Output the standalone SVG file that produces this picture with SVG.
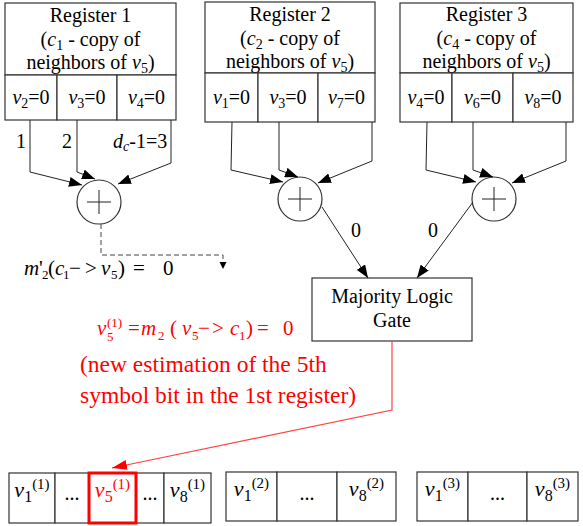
<svg xmlns="http://www.w3.org/2000/svg" width="583" height="526" viewBox="0 0 583 526" font-family="Liberation Serif, Times New Roman, DejaVu Serif, Noto Serif, serif">
<style>
  .box{fill:#fff;stroke:#333;stroke-width:1.2}
  .ln{fill:none;stroke:#222;stroke-width:1}
  .r{fill:#ff0000}
  .i{font-style:italic}
</style>
<defs>
  <marker id="ah" markerUnits="userSpaceOnUse" markerWidth="14" markerHeight="10" refX="13" refY="5" orient="auto">
    <path d="M0,0 L13,5 L0,10 Z" fill="#000"/>
  </marker>
  <marker id="ahs" markerUnits="userSpaceOnUse" markerWidth="8" markerHeight="8" refX="7" refY="3.5" orient="auto">
    <path d="M0,0 L7,3.5 L0,7 Z" fill="#000"/>
  </marker>
  <marker id="ahr" markerUnits="userSpaceOnUse" markerWidth="16" markerHeight="10" refX="15" refY="5" orient="auto">
    <path d="M0,0 L15,5 L0,10 Z" fill="#ff0000"/>
  </marker>
</defs>

<g id="register1">
  <rect class="box" x="5" y="3" width="171" height="72"/>
  <text font-size="20" x="90.5" y="22" text-anchor="middle">Register 1</text>
  <text font-size="20" x="90.5" y="46" text-anchor="middle">(<tspan class="i">c</tspan><tspan font-size="14" dy="4">1</tspan><tspan dy="-4"> - copy of</tspan></text>
  <text font-size="20" x="90.5" y="69" text-anchor="middle">neighbors of <tspan class="i">v</tspan><tspan font-size="14" dy="4">5</tspan><tspan dy="-4">)</tspan></text>
  <rect class="box" x="5" y="75" width="52" height="45"/>
  <rect class="box" x="57" y="75" width="60" height="45"/>
  <rect class="box" x="117" y="75" width="59" height="45"/>
  <text font-size="20" x="31" y="104" text-anchor="middle"><tspan class="i">v</tspan><tspan font-size="14" dy="4">2</tspan><tspan dy="-4">=0</tspan></text>
  <text font-size="20" x="87" y="104" text-anchor="middle"><tspan class="i">v</tspan><tspan font-size="14" dy="4">3</tspan><tspan dy="-4">=0</tspan></text>
  <text font-size="20" x="146.5" y="104" text-anchor="middle"><tspan class="i">v</tspan><tspan font-size="14" dy="4">4</tspan><tspan dy="-4">=0</tspan></text>
</g>

<g id="register2">
  <rect class="box" x="205" y="2" width="170" height="71"/>
  <text font-size="20" x="290" y="21" text-anchor="middle">Register 2</text>
  <text font-size="20" x="290" y="45" text-anchor="middle">(<tspan class="i">c</tspan><tspan font-size="14" dy="4">2</tspan><tspan dy="-4"> - copy of</tspan></text>
  <text font-size="20" x="290" y="68" text-anchor="middle">neighbors of <tspan class="i">v</tspan><tspan font-size="14" dy="4">5</tspan><tspan dy="-4">)</tspan></text>
  <rect class="box" x="205" y="73" width="53" height="49"/>
  <rect class="box" x="258" y="73" width="60" height="49"/>
  <rect class="box" x="318" y="73" width="57" height="49"/>
  <text font-size="20" x="231.5" y="104" text-anchor="middle"><tspan class="i">v</tspan><tspan font-size="14" dy="4">1</tspan><tspan dy="-4">=0</tspan></text>
  <text font-size="20" x="288" y="104" text-anchor="middle"><tspan class="i">v</tspan><tspan font-size="14" dy="4">3</tspan><tspan dy="-4">=0</tspan></text>
  <text font-size="20" x="346.5" y="104" text-anchor="middle"><tspan class="i">v</tspan><tspan font-size="14" dy="4">7</tspan><tspan dy="-4">=0</tspan></text>
</g>

<g id="register3">
  <rect class="box" x="400" y="3" width="173" height="70"/>
  <text font-size="20" x="486.5" y="21" text-anchor="middle">Register 3</text>
  <text font-size="20" x="486.5" y="45" text-anchor="middle">(<tspan class="i">c</tspan><tspan font-size="14" dy="4">4</tspan><tspan dy="-4"> - copy of</tspan></text>
  <text font-size="20" x="486.5" y="68" text-anchor="middle">neighbors of <tspan class="i">v</tspan><tspan font-size="14" dy="4">5</tspan><tspan dy="-4">)</tspan></text>
  <rect class="box" x="400" y="73" width="52" height="49"/>
  <rect class="box" x="452" y="73" width="61" height="49"/>
  <rect class="box" x="513" y="73" width="60" height="49"/>
  <text font-size="20" x="426" y="104" text-anchor="middle"><tspan class="i">v</tspan><tspan font-size="14" dy="4">4</tspan><tspan dy="-4">=0</tspan></text>
  <text font-size="20" x="482.5" y="104" text-anchor="middle"><tspan class="i">v</tspan><tspan font-size="14" dy="4">6</tspan><tspan dy="-4">=0</tspan></text>
  <text font-size="20" x="543" y="104" text-anchor="middle"><tspan class="i">v</tspan><tspan font-size="14" dy="4">8</tspan><tspan dy="-4">=0</tspan></text>
</g>

<g id="xor1">
  <circle class="box" cx="99" cy="202" r="22"/>
  <path class="ln" d="M87,202 H111 M99,190 V214"/>
</g>
<g id="xor2">
  <circle class="box" cx="300" cy="199" r="22"/>
  <path class="ln" d="M288,199 H312 M300,187 V211"/>
</g>
<g id="xor3">
  <circle class="box" cx="494" cy="199" r="22"/>
  <path class="ln" d="M482,199 H506 M494,187 V211"/>
</g>

<g id="gate">
  <rect class="box" x="312" y="278" width="160" height="63"/>
  <text font-size="20" x="392" y="303" text-anchor="middle">Majority Logic</text>
  <text font-size="20" x="392" y="327" text-anchor="middle">Gate</text>
</g>

<g id="connectors">
  <path class="ln" d="M30,120 V172 L82,185" marker-end="url(#ah)"/>
  <path class="ln" d="M77,120 V172 L95,179" marker-end="url(#ah)"/>
  <path class="ln" d="M171,120 V163 L118,184" marker-end="url(#ah)"/>
  <path class="ln" d="M232,122 L231,170 L283,182" marker-end="url(#ah)"/>
  <path class="ln" d="M279,122 V170 L298,177" marker-end="url(#ah)"/>
  <path class="ln" d="M372,122 V161 L318,183" marker-end="url(#ah)"/>
  <path class="ln" d="M427,122 L426,170 L476,182" marker-end="url(#ah)"/>
  <path class="ln" d="M473,122 V170 L493,177" marker-end="url(#ah)"/>
  <path class="ln" d="M566,122 V161 L512,183" marker-end="url(#ah)"/>
  <path class="ln" d="M322,207 L368,278" marker-end="url(#ah)"/>
  <path class="ln" d="M473,202 L417,278" marker-end="url(#ah)"/>
  <path fill="none" stroke="#444" stroke-width="1" stroke-dasharray="5,3" d="M101,224 V255 H223 V269" marker-end="url(#ahs)"/>
  <path fill="none" stroke="#ff4444" stroke-width="1.2" d="M392,341 V410 L112,468" marker-end="url(#ahr)"/>
</g>

<g id="labels">
  <text font-size="20" x="21" y="148" text-anchor="middle">1</text>
  <text font-size="20" x="67" y="148" text-anchor="middle">2</text>
  <text font-size="20" x="113" y="148"><tspan class="i">d</tspan><tspan class="i" font-size="14" dy="3">c</tspan><tspan dy="-3">-1=3</tspan></text>
  <text font-size="20" x="356" y="237" text-anchor="middle">0</text>
  <text font-size="20" x="433" y="237" text-anchor="middle">0</text>
  <g font-size="21">
    <text class="i" x="24" y="275">m</text>
    <text x="39" y="275">'</text>
    <text x="42" y="279" font-size="13">2</text>
    <text x="48" y="275">(</text>
    <text class="i" x="55" y="275">c</text>
    <text x="63" y="279" font-size="13">1</text>
    <text x="69" y="275">−</text>
    <text x="85" y="275">&gt;</text>
    <text class="i" x="101" y="275">v</text>
    <text x="111" y="279" font-size="13">5</text>
    <text x="118" y="275">)</text>
    <text x="133" y="275">=</text>
    <text x="163" y="275">0</text>
  </g>
  <g font-size="21">
    <text class="i r" x="97" y="335">v</text>
    <text class="r" x="107" y="327" font-size="13">(1)</text>
    <text class="r" x="107" y="341" font-size="13">5</text>
    <text class="r" x="128" y="335">=</text>
    <text class="i r" x="141" y="335">m</text>
    <text class="r" x="158" y="340" font-size="13">2</text>
    <text class="r" x="170" y="335">(</text>
    <text class="i r" x="182" y="335">v</text>
    <text class="r" x="192" y="340" font-size="13">5</text>
    <text class="r" x="198" y="335">−</text>
    <text class="r" x="212" y="335">&gt;</text>
    <text class="i r" x="230" y="335">c</text>
    <text class="r" x="239" y="340" font-size="13">1</text>
    <text class="r" x="246" y="335">)</text>
    <text class="r" x="257" y="335">=</text>
    <text class="r" x="283" y="335">0</text>
  </g>
  <text class="r" font-size="23.5" x="80" y="372">(new estimation of the 5th</text>
  <text class="r" font-size="23.5" x="80" y="403">symbol bit in the 1st register)</text>
</g>

<g id="estimate1">
  <rect class="box" x="9" y="473" width="46" height="50"/>
  <rect class="box" x="55" y="473" width="34" height="50"/>
  <rect class="box" x="136" y="473" width="28" height="50"/>
  <rect class="box" x="164" y="473" width="47" height="50"/>
  <rect x="89" y="473" width="47" height="50" fill="#fff" stroke="#ff0000" stroke-width="3"/>
  <text font-size="22" x="32" y="497" text-anchor="middle"><tspan class="i">v</tspan><tspan font-size="16" dy="5">1</tspan><tspan font-size="15" dy="-13">(1)</tspan></text>
  <text font-size="20" x="72" y="500" text-anchor="middle">...</text>
  <text class="r" font-size="22" x="112.5" y="497" text-anchor="middle"><tspan class="i">v</tspan><tspan font-size="16" dy="5">5</tspan><tspan font-size="15" dy="-13">(1)</tspan></text>
  <text font-size="20" x="150" y="500" text-anchor="middle">...</text>
  <text font-size="22" x="187.5" y="497" text-anchor="middle"><tspan class="i">v</tspan><tspan font-size="16" dy="5">8</tspan><tspan font-size="15" dy="-13">(1)</tspan></text>
</g>

<g id="estimate2">
  <rect class="box" x="226" y="472" width="51" height="49"/>
  <rect class="box" x="277" y="472" width="60" height="49"/>
  <rect class="box" x="337" y="472" width="59" height="49"/>
  <text font-size="22" x="251.5" y="496" text-anchor="middle"><tspan class="i">v</tspan><tspan font-size="16" dy="5">1</tspan><tspan font-size="15" dy="-13">(2)</tspan></text>
  <text font-size="20" x="307" y="500" text-anchor="middle">...</text>
  <text font-size="22" x="366.5" y="496" text-anchor="middle"><tspan class="i">v</tspan><tspan font-size="16" dy="5">8</tspan><tspan font-size="15" dy="-13">(2)</tspan></text>
</g>

<g id="estimate3">
  <rect class="box" x="417" y="472" width="51" height="49"/>
  <rect class="box" x="468" y="472" width="59" height="49"/>
  <rect class="box" x="527" y="472" width="51" height="49"/>
  <text font-size="22" x="442.5" y="496" text-anchor="middle"><tspan class="i">v</tspan><tspan font-size="16" dy="5">1</tspan><tspan font-size="15" dy="-13">(3)</tspan></text>
  <text font-size="20" x="497.5" y="500" text-anchor="middle">...</text>
  <text font-size="22" x="552.5" y="496" text-anchor="middle"><tspan class="i">v</tspan><tspan font-size="16" dy="5">8</tspan><tspan font-size="15" dy="-13">(3)</tspan></text>
</g>
</svg>
